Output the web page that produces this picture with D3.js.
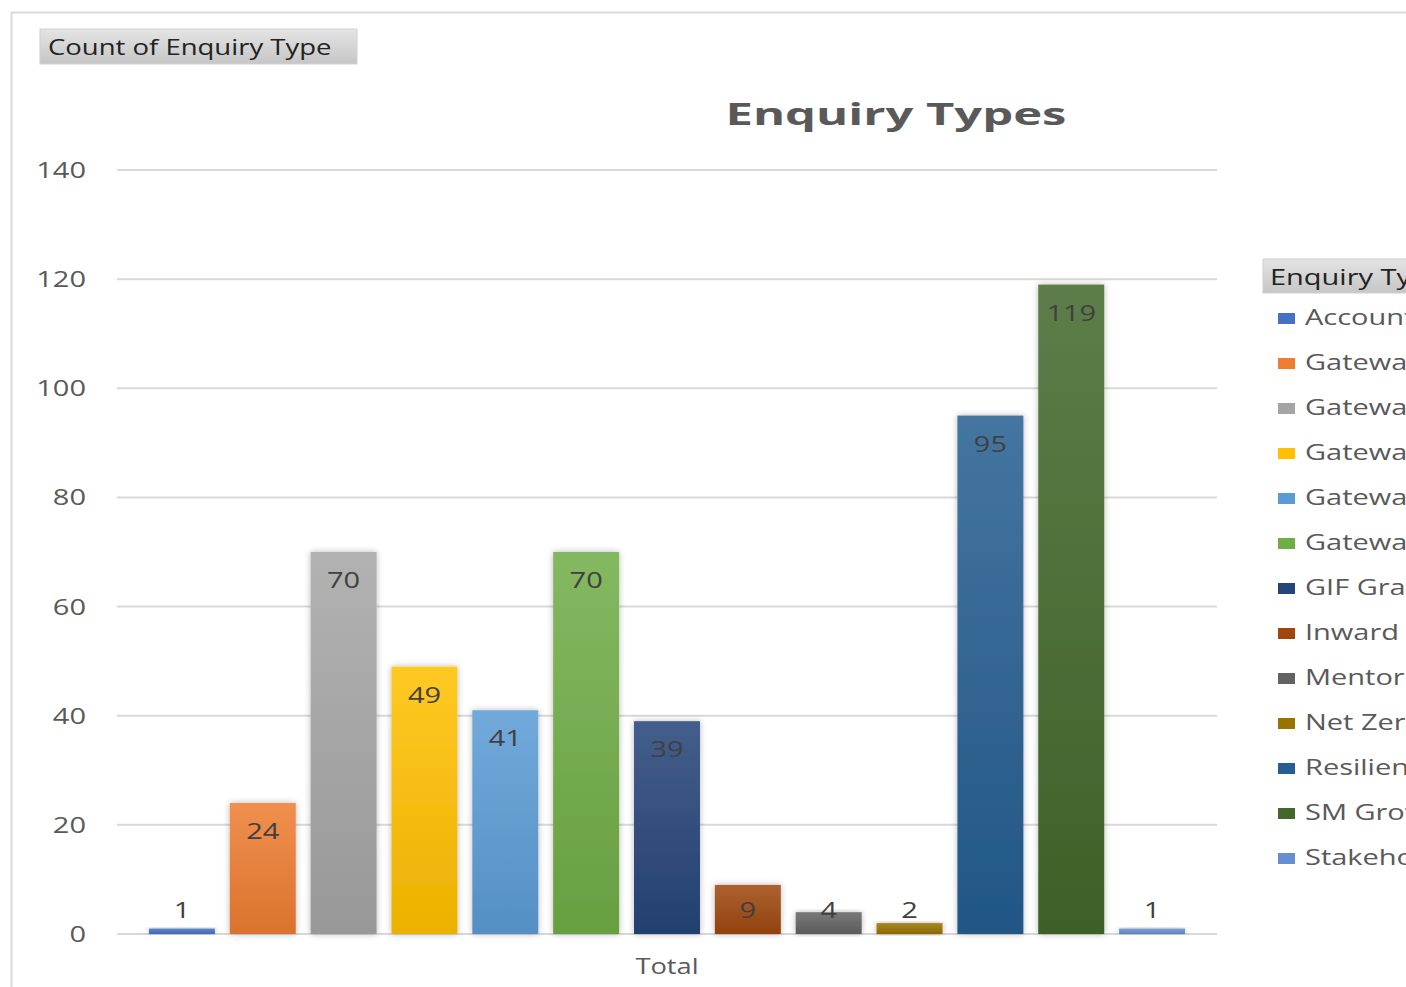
<!DOCTYPE html>
<html>
<head>
<meta charset="utf-8">
<script src="https://cdn.jsdelivr.net/npm/d3@7"></script>
<style>
  html, body { margin: 0; padding: 0; background: #fff; overflow: hidden; }
  text { font-family: "Open Sans", sans-serif; }
</style>
</head>
<body>
<div class="chart"></div>
<script>
const categories = [
  "Accounts", "Gateway Advice", "Gateway Events", "Gateway Funding", "Gateway Referral",
  "Gateway Support", "GIF Grant", "Inward Investment", "Mentoring", "Net Zero",
  "Resilience", "SM Growth", "Stakeholder"
];
const counts = [1, 24, 70, 49, 41, 70, 39, 9, 4, 2, 95, 119, 1];
const colors = [
  "#4472C4", "#ED7D31", "#A5A5A5", "#FFC000", "#5B9BD5", "#70AD47", "#264478",
  "#9E480E", "#636363", "#997300", "#255E91", "#43682B", "#698ED0"
];
const yTicks = [0, 20, 40, 60, 80, 100, 120, 140];

const W = 1406, H = 987;
const plot = { left: 117, right: 1217, top: 170, bottom: 934 };
const sx = 1.3; // the reference text is drawn wide

const svg = d3.select(".chart").append("svg")
  .attr("width", W)
  .attr("height", H);

const defs = svg.append("defs");

const shadow = defs.append("filter")
  .attr("id", "shadow")
  .attr("x", "-30%").attr("y", "-10%")
  .attr("width", "160%").attr("height", "120%");
shadow.append("feDropShadow")
  .attr("dx", 0).attr("dy", 0)
  .attr("stdDeviation", 3)
  .attr("flood-color", "#000")
  .attr("flood-opacity", 0.28);

const btnGrad = defs.append("linearGradient")
  .attr("id", "btnGrad")
  .attr("x1", 0).attr("y1", 0).attr("x2", 0).attr("y2", 1);
btnGrad.append("stop").attr("offset", "0%").attr("stop-color", "#e4e4e4");
btnGrad.append("stop").attr("offset", "100%").attr("stop-color", "#c6c6c6");

colors.forEach((c, i) => {
  const g = defs.append("linearGradient")
    .attr("id", `bar${i}`)
    .attr("x1", 0).attr("y1", 0).attr("x2", 0).attr("y2", 1);
  g.append("stop").attr("offset", "0%").attr("stop-color", d3.interpolateRgb(c, "#fff")(0.14));
  g.append("stop").attr("offset", "100%").attr("stop-color", d3.interpolateRgb(c, "#000")(0.08));
});

// wide text helper
function wideText (sel, x, y, str, anchor, scale) {
  return sel.append("text")
    .attr("transform", `translate(${x},${y}) scale(${scale || sx},1)`)
    .attr("text-anchor", anchor || "start")
    .text(str);
}

// outer frame
svg.append("rect")
  .attr("x", 11.5).attr("y", 12.5)
  .attr("width", 1600).attr("height", 1200)
  .attr("fill", "none")
  .attr("stroke", "#d9d9d9")
  .attr("stroke-width", 2);

// field button
svg.append("rect")
  .attr("x", 40).attr("y", 29)
  .attr("width", 317).attr("height", 35)
  .attr("fill", "url(#btnGrad)")
  .attr("stroke", "#d0d0d0");
wideText(svg, 48, 55, "Count of Enquiry Type", "start", 1.25)
  .attr("font-size", 22)
  .attr("fill", "#222");

// title
wideText(svg, 896, 125, "Enquiry Types", "middle", 1.58)
  .attr("font-size", 31)
  .attr("font-weight", 700)
  .attr("fill", "#595959");

const x = d3.scaleBand()
  .domain(categories)
  .range([plot.left, plot.right])
  .paddingInner(0.184)
  .paddingOuter(0.395);

const y = d3.scaleLinear()
  .domain([0, 140])
  .range([plot.bottom, plot.top]);

// gridlines
svg.append("g")
  .selectAll("line")
  .data(yTicks)
  .join("line")
  .attr("x1", plot.left).attr("x2", plot.right)
  .attr("y1", d => y(d)).attr("y2", d => y(d))
  .attr("stroke", "#d9d9d9")
  .attr("stroke-width", 2);

// y labels
const yLab = svg.append("g");
yTicks.forEach(t => {
  wideText(yLab, 86, y(t) + 8, String(t), "end", 1.38)
    .attr("font-size", 21)
    .attr("fill", "#595959");
});

// bars
svg.append("g")
  .selectAll("rect")
  .data(counts)
  .join("rect")
  .attr("x", (d, i) => x(categories[i]))
  .attr("y", d => y(d))
  .attr("width", x.bandwidth())
  .attr("height", d => y(0) - y(d))
  .attr("fill", (d, i) => `url(#bar${i})`)
  .attr("filter", "url(#shadow)");

// data labels
const labels = svg.append("g");
counts.forEach((d, i) => {
  const cy = Math.min(y(d) + 27, y(0) - 25);
  wideText(labels, x(categories[i]) + x.bandwidth() / 2, cy + 9, String(d), "middle", 1.38)
    .attr("font-size", 21)
    .attr("fill", "#404040");
});

// x category
wideText(svg, (plot.left + plot.right) / 2, 974, "Total", "middle")
  .attr("font-size", 21)
  .attr("fill", "#595959");

// legend
const legend = svg.append("g");
legend.append("rect")
  .attr("x", 1263).attr("y", 259)
  .attr("width", 200).attr("height", 34)
  .attr("fill", "url(#btnGrad)")
  .attr("stroke", "#d0d0d0");
wideText(legend, 1270, 285, "Enquiry Type", "start", 1.38)
  .attr("font-size", 21)
  .attr("fill", "#222");

categories.forEach((c, i) => {
  const by = 325 + i * 45;
  legend.append("rect")
    .attr("x", 1278).attr("y", by - 12)
    .attr("width", 17).attr("height", 11)
    .attr("fill", colors[i]);
  wideText(legend, 1305, by, c, "start", 1.38)
    .attr("font-size", 21)
    .attr("fill", "#595959");
});
</script>
</body>
</html>
